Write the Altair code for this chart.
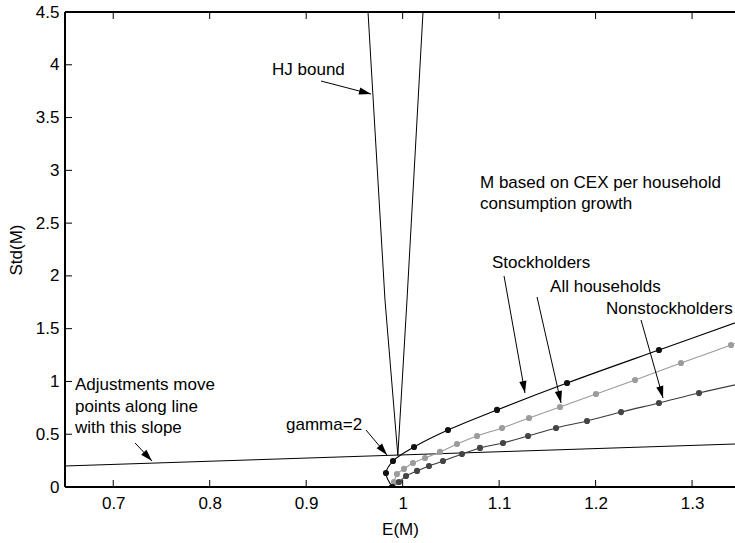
import math
import altair as alt
import pandas as pd

# ---------------- data ----------------
X_MIN, X_MAX = 0.65, 1.3445
Y_MIN, Y_MAX = 0.0, 4.5
W, H = 670, 475

x_ticks = [0.7, 0.8, 0.9, 1.0, 1.1, 1.2, 1.3]
y_ticks = [0, 0.5, 1, 1.5, 2, 2.5, 3, 3.5, 4, 4.5]

# Stockholders (black) points, gamma = 0,1,2,...
stock_E = [0.9893, 0.9827, 0.9900, 1.0118, 1.0470, 1.0978, 1.1704, 1.2657]
stock_S = [0.0, 0.133, 0.246, 0.379, 0.540, 0.730, 0.985, 1.298]
stock_tail = [1.35, 1.572]

# All households (light gray)
all_E = [0.9890, 0.9910, 0.9941, 1.0014, 1.0107, 1.0232, 1.0387, 1.0563,
         1.0771, 1.1030, 1.1310, 1.1631, 1.2004, 1.2409, 1.2885, 1.3404]
all_S = [0.0, 0.047, 0.123, 0.171, 0.227, 0.275, 0.332, 0.407,
         0.483, 0.559, 0.654, 0.758, 0.881, 1.014, 1.175, 1.345]
all_tail = [1.35, 1.380]

# Nonstockholders (dark gray)
non_E = [0.9890, 0.9962, 1.0035, 1.0149, 1.0273, 1.0418, 1.0615, 1.0802,
         1.1040, 1.1300, 1.1590, 1.1911, 1.2264, 1.2657, 1.3072]
non_S = [0.0, 0.047, 0.104, 0.152, 0.199, 0.246, 0.313, 0.370,
         0.417, 0.483, 0.559, 0.625, 0.710, 0.796, 0.890]
non_tail = [1.35, 0.978]

# HJ bound (left branch top -> apex -> right branch top)
hj_E = [0.9641, 0.9817, 0.9950, 1.0045, 1.0211]
hj_S = [4.5, 1.771, 0.300, 1.771, 4.5]

# Adjustment line
adj_E = [0.65, 1.35]
adj_S = [0.199, 0.409]

# Annotation texts
txt_label = ["HJ bound", "M based on CEX per household", "consumption growth",
             "Stockholders", "All households", "Nonstockholders",
             "Adjustments move", "points along line", "with this slope", "gamma=2"]
txt_E = [0.8646, 1.0802, 1.0802, 1.0926, 1.1528, 1.2108, 0.6604, 0.6604, 0.6604, 0.8791]
txt_S = [3.950, 2.880, 2.681, 2.122, 1.895, 1.686, 0.966, 0.758, 0.559, 0.587]

# Arrows (start -> tip)
arr_E1 = [0.9154, 0.9620, 0.7226, 1.1051, 1.1393, 1.2471]
arr_S1 = [3.846, 0.540, 0.417, 1.999, 1.800, 1.582]
arr_E2 = [0.9672, 0.9838, 0.7402, 1.1268, 1.1642, 1.2699]
arr_S2 = [3.723, 0.303, 0.246, 0.890, 0.796, 0.843]

# ---------------- build tables ----------------
def series_df(E, S, tail, name):
    rows = [{"E": e, "S": s, "o": i, "series": name, "dot": True} for i, (e, s) in enumerate(zip(E, S))]
    rows.append({"E": tail[0], "S": tail[1], "o": len(E), "series": name, "dot": False})
    return pd.DataFrame(rows)

df_stock = series_df(stock_E, stock_S, stock_tail, "Stockholders")
df_all = series_df(all_E, all_S, all_tail, "All households")
df_non = series_df(non_E, non_S, non_tail, "Nonstockholders")

df_hj = pd.DataFrame({"E": hj_E, "S": hj_S, "o": list(range(len(hj_E)))})
df_adj = pd.DataFrame({"E": adj_E, "S": adj_S, "o": [0, 1]})
df_txt = pd.DataFrame({"E": txt_E, "S": txt_S, "label": txt_label})

kx = W / (X_MAX - X_MIN)
ky = H / (Y_MAX - Y_MIN)
angles = []
for e1, s1, e2, s2 in zip(arr_E1, arr_S1, arr_E2, arr_S2):
    dx = (e2 - e1) * kx
    dy = -(s2 - s1) * ky
    angles.append(math.degrees(math.atan2(dx, -dy)) % 360)
df_arr = pd.DataFrame({"E1": arr_E1, "S1": arr_S1, "E2": arr_E2, "S2": arr_S2, "ang": angles})

df_xt = pd.DataFrame({"v": x_ticks})
df_yt = pd.DataFrame({"v": y_ticks})

# ---------------- chart ----------------
FONT = "Liberation Sans"
FS = 17
xs = alt.Scale(domain=[X_MIN, X_MAX], nice=False, zero=False)
ys = alt.Scale(domain=[Y_MIN, Y_MAX], nice=False, zero=False)

X = alt.X("E:Q", scale=xs,
          axis=alt.Axis(values=x_ticks, format="~g", title="E(M)", grid=False,
                        ticks=False, domain=False, labelFontSize=FS, labelFont=FONT,
                        labelColor="black", labelPadding=8, titleFont=FONT,
                        titleFontSize=FS, titleFontWeight="normal", titleColor="black",
                        titlePadding=10, labelFlush=False))
Y = alt.Y("S:Q", scale=ys,
          axis=alt.Axis(values=y_ticks, format="~g", title="Std(M)", grid=False,
                        ticks=False, domain=False, labelFontSize=FS, labelFont=FONT,
                        labelColor="black", labelPadding=6, titleFont=FONT,
                        titleFontSize=FS, titleFontWeight="normal", titleColor="black",
                        titlePadding=10, labelFlush=False))

def line_layer(df, color, width=1.1):
    return alt.Chart(df).mark_line(color=color, strokeWidth=width, clip=True,
                                   interpolate="catmull-rom").encode(
        x=alt.X("E:Q", scale=xs), y=alt.Y("S:Q", scale=ys), order="o:Q")

def dot_layer(df, color):
    return alt.Chart(df[df["dot"]]).mark_circle(color=color, size=38, opacity=1, clip=True).encode(
        x=alt.X("E:Q", scale=xs), y=alt.Y("S:Q", scale=ys))

base = alt.Chart(df_adj).mark_line(color="black", strokeWidth=1, clip=True).encode(
    x=X, y=Y, order="o:Q")

hj = alt.Chart(df_hj).mark_line(color="black", strokeWidth=1, clip=True).encode(
    x=alt.X("E:Q", scale=xs), y=alt.Y("S:Q", scale=ys), order="o:Q")

arrow_lines = alt.Chart(df_arr).mark_rule(color="black", strokeWidth=1).encode(
    x=alt.X("E1:Q", scale=xs), y=alt.Y("S1:Q", scale=ys), x2="E2:Q", y2="S2:Q")
arrow_heads = alt.Chart(df_arr).mark_point(
    shape="M0,0L-0.6,2L0.6,2Z", size=144, filled=True, color="black", opacity=1).encode(
    x=alt.X("E2:Q", scale=xs), y=alt.Y("S2:Q", scale=ys), angle=alt.Angle("ang:Q", scale=None))

texts = alt.Chart(df_txt).mark_text(align="left", baseline="middle", font=FONT,
                                    fontSize=FS, color="black").encode(
    x=alt.X("E:Q", scale=xs), y=alt.Y("S:Q", scale=ys), text="label:N")

tick_bottom = alt.Chart(df_xt).mark_rule(color="black", strokeWidth=1).encode(
    x=alt.X("v:Q", scale=xs), y=alt.value(H), y2=alt.value(H - 7))
tick_top = alt.Chart(df_xt).mark_rule(color="black", strokeWidth=1).encode(
    x=alt.X("v:Q", scale=xs), y=alt.value(0), y2=alt.value(7))
tick_left = alt.Chart(df_yt).mark_rule(color="black", strokeWidth=1).encode(
    y=alt.Y("v:Q", scale=ys), x=alt.value(0), x2=alt.value(7))

frame_top = alt.Chart(df_xt).mark_rule(color="black", strokeWidth=1.5).encode(
    x=alt.value(0), x2=alt.value(W), y=alt.value(0))
frame_bottom = alt.Chart(df_xt).mark_rule(color="black", strokeWidth=1.5).encode(
    x=alt.value(0), x2=alt.value(W), y=alt.value(H))
frame_left = alt.Chart(df_xt).mark_rule(color="black", strokeWidth=1.5).encode(
    x=alt.value(0), y=alt.value(0), y2=alt.value(H))

chart = alt.layer(
    base, hj,
    line_layer(df_stock, "#000000"), line_layer(df_all, "#9a9a9a"), line_layer(df_non, "#3a3a3a"),
    dot_layer(df_all, "#9c9c9c"), dot_layer(df_non, "#444444"), dot_layer(df_stock, "#111111"),
    arrow_lines, arrow_heads, texts,
    tick_bottom, tick_top, tick_left, frame_top, frame_bottom, frame_left,
).properties(
    width=W, height=H, autosize="none",
    padding={"left": 65, "top": 12, "right": 0, "bottom": 56},
).configure_view(stroke=None).configure(background="white")

chart.save("out.html", embed_options={"renderer": "svg", "actions": False})
